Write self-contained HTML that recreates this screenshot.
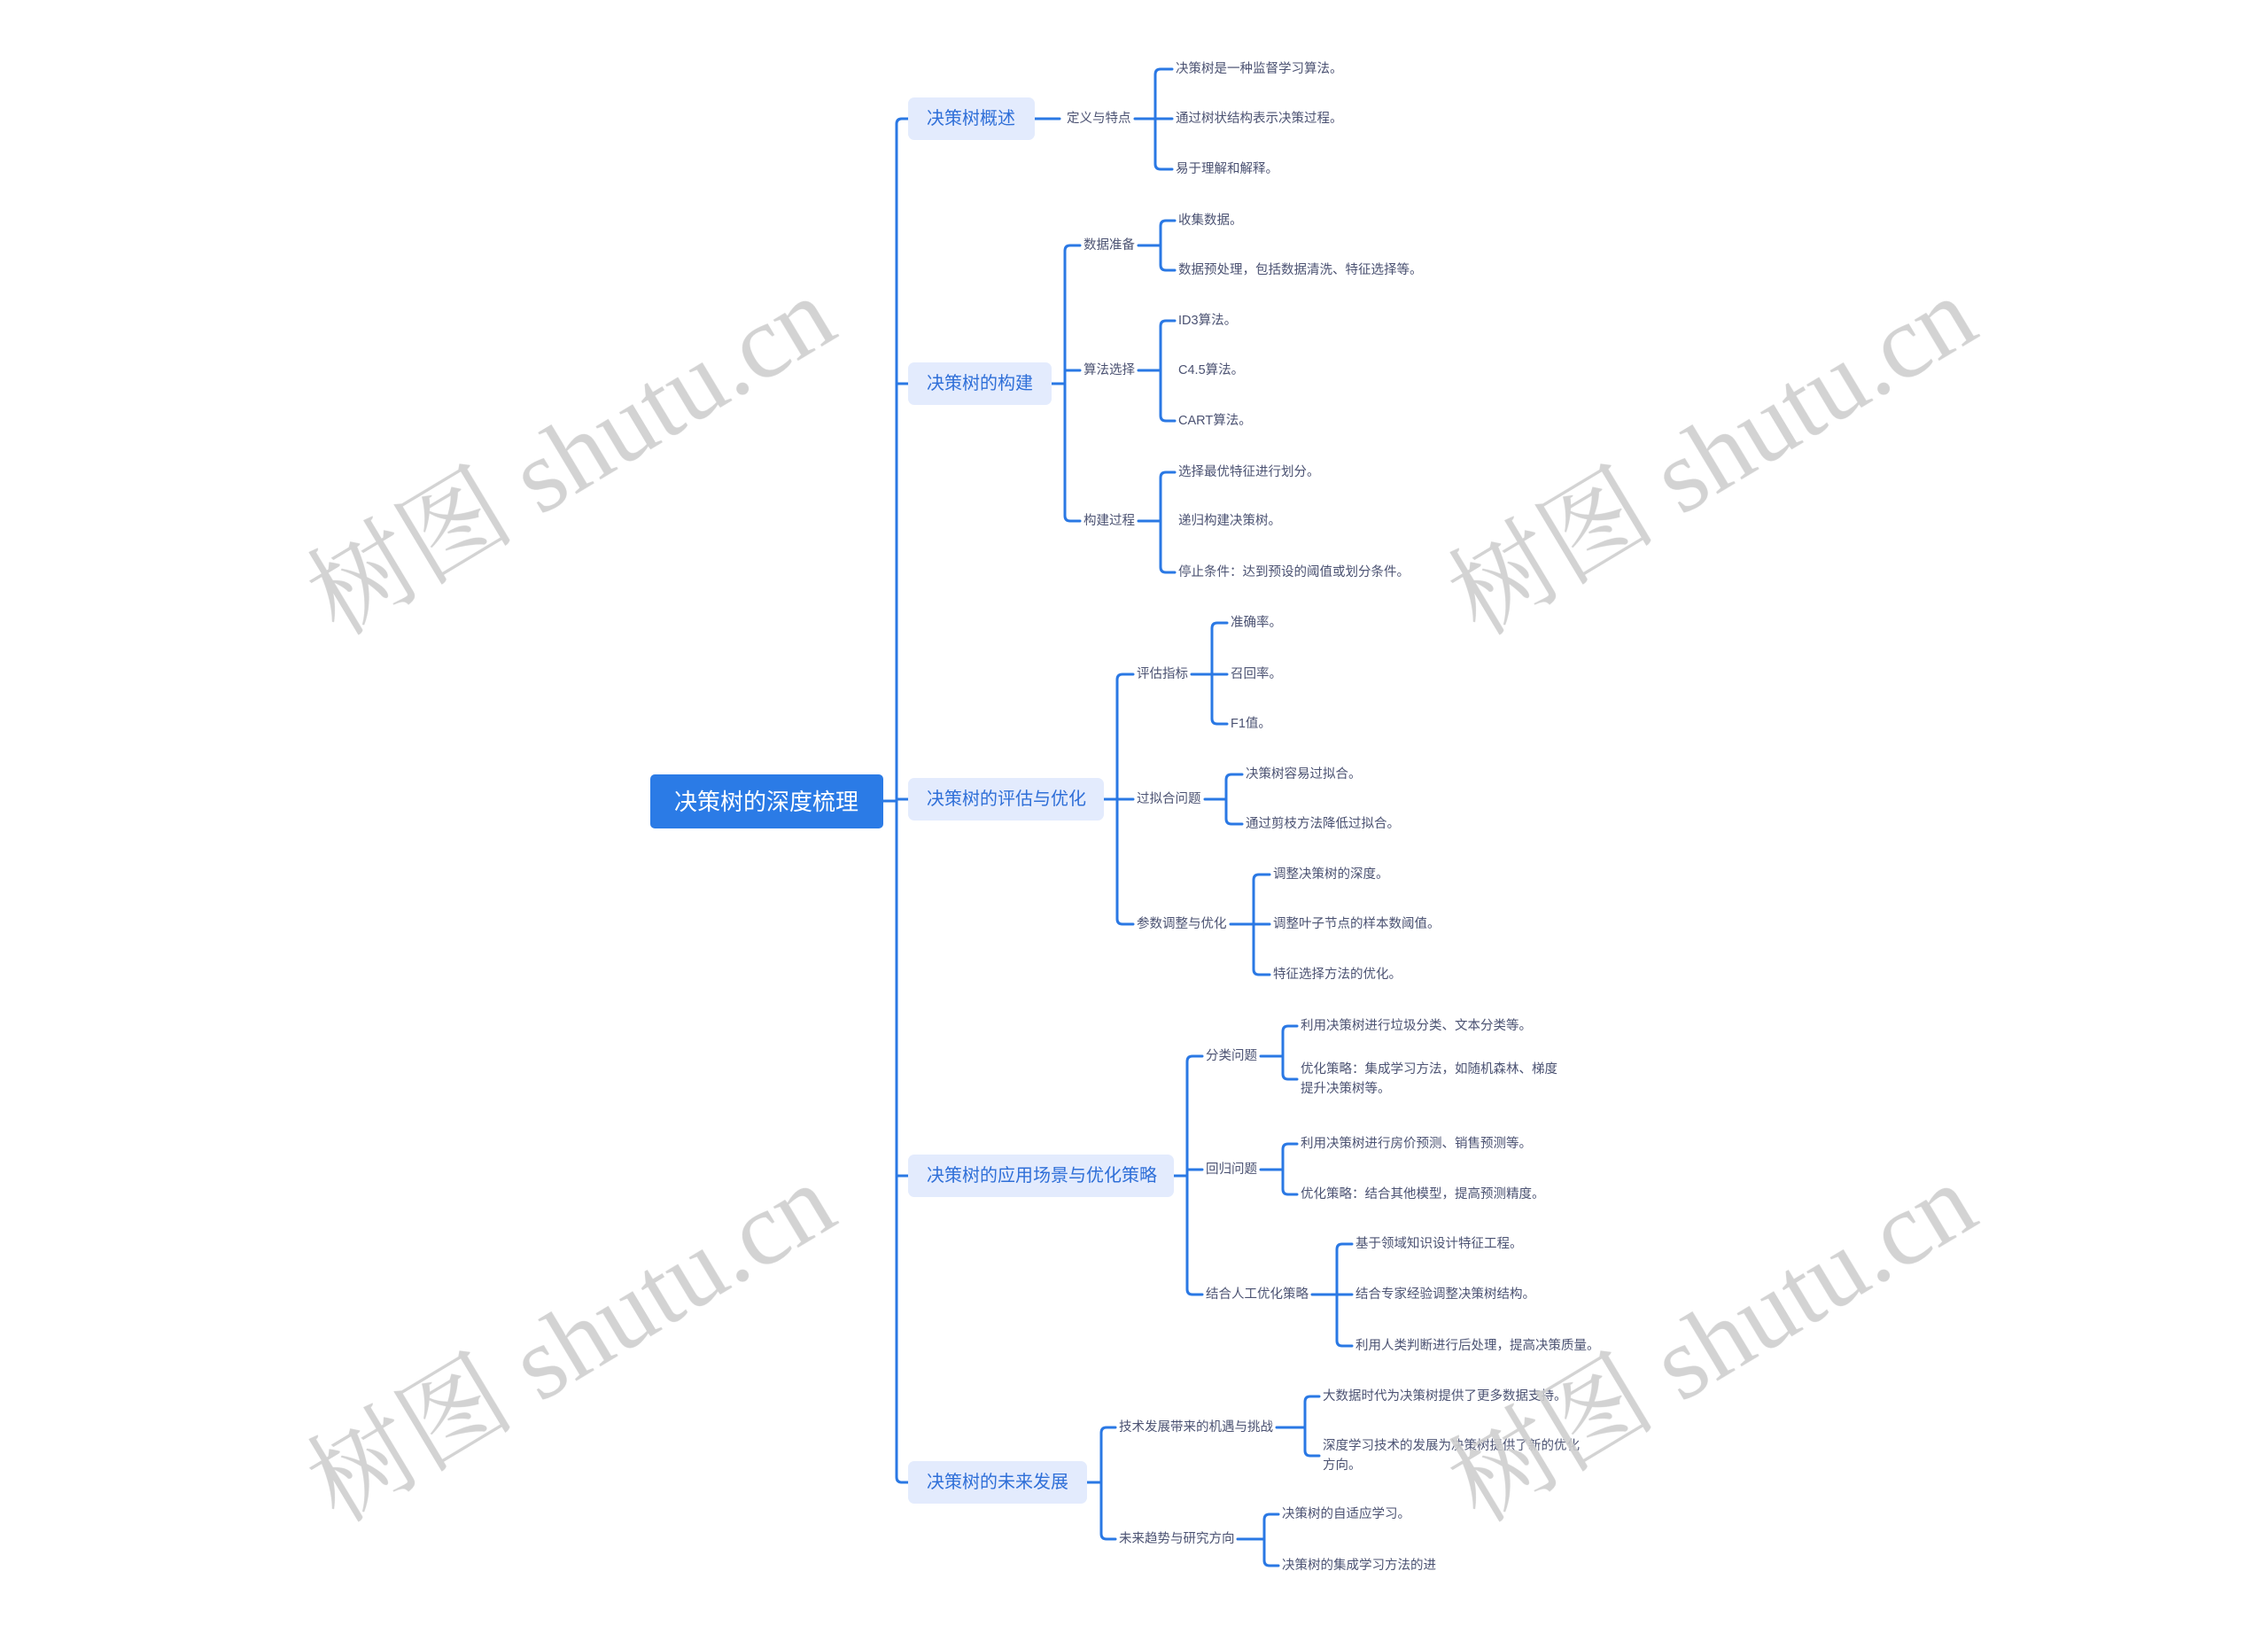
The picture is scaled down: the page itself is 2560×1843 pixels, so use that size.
<!DOCTYPE html>
<html><head><meta charset="utf-8"><style>
html,body{margin:0;padding:0;background:#fff;}
svg{display:block;}
.t{font-family:"Liberation Sans","Noto Sans CJK SC",sans-serif;}
.l{font-size:14.5px;fill:#4b5272;}
.n{font-size:20px;fill:#2f6fd8;}
.w{font-family:"Liberation Serif","Noto Serif CJK SC",serif;font-size:118px;fill:#cfcfcf;}
</style></head><body>
<svg width="2560" height="1843" viewBox="0 0 2560 1843" xmlns="http://www.w3.org/2000/svg">
<g transform="translate(-4,-4)">
<g fill="none" stroke="#2a78e4" stroke-width="3" stroke-linecap="round">
<path d="M1001,908 H1016"/>
<path d="M1029,138 H1022 Q1016,138 1016,144 V1671 Q1016,1677 1022,1677 H1029"/>
<path d="M1016,437 H1029 M1016,906 H1029 M1016,1331 H1029"/>
<path d="M1172,138 H1200"/>
<path d="M1285,138 H1308"/>
<path d="M1327,82 H1314 Q1308,82 1308,88 V189 Q1308,195 1314,195 H1327 M1308,138 H1327"/>
<path d="M1191,437 H1206"/>
<path d="M1223,281 H1212 Q1206,281 1206,287 V586 Q1206,592 1212,592 H1223 M1206,422 H1223"/>
<path d="M1289,281 H1314 M1330,253 H1320 Q1314,253 1314,259 V303 Q1314,309 1320,309 H1330"/>
<path d="M1289,422 H1314 M1330,366 H1320 Q1314,366 1314,372 V473 Q1314,479 1320,479 H1330"/>
<path d="M1289,592 H1314 M1330,537 H1320 Q1314,537 1314,543 V644 Q1314,650 1320,650 H1330"/>
<path d="M1250,906 H1265"/>
<path d="M1283,765 H1271 Q1265,765 1265,771 V1041 Q1265,1047 1271,1047 H1283 M1265,906 H1283"/>
<path d="M1349,765 H1389 M1389,707 H1378 Q1372,707 1372,713 V815 Q1372,821 1378,821 H1389"/>
<path d="M1364,906 H1388 M1406,878 H1394 Q1388,878 1388,884 V928 Q1388,934 1394,934 H1406"/>
<path d="M1393,1047 H1437 M1437,991 H1425 Q1419,991 1419,997 V1098 Q1419,1104 1425,1104 H1437"/>
<path d="M1329,1331 H1344"/>
<path d="M1361,1196 H1350 Q1344,1196 1344,1202 V1459 Q1344,1465 1350,1465 H1361 M1344,1324 H1361"/>
<path d="M1427,1196 H1452 M1468,1162 H1458 Q1452,1162 1452,1168 V1216 Q1452,1222 1458,1222 H1468"/>
<path d="M1427,1324 H1452 M1468,1295 H1458 Q1452,1295 1452,1301 V1346 Q1452,1352 1458,1352 H1468"/>
<path d="M1485,1465 H1530 M1530,1408 H1519 Q1513,1408 1513,1414 V1517 Q1513,1523 1519,1523 H1530"/>
<path d="M1231,1677 H1247"/>
<path d="M1263,1615 H1253 Q1247,1615 1247,1621 V1735 Q1247,1741 1253,1741 H1263"/>
<path d="M1445,1615 H1477 M1493,1580 H1483 Q1477,1580 1477,1586 V1641 Q1477,1647 1483,1647 H1493"/>
<path d="M1401,1741 H1431 M1447,1713 H1437 Q1431,1713 1431,1719 V1765 Q1431,1771 1437,1771 H1447"/>
</g>
<rect x="738" y="878" width="263" height="61" rx="5" fill="#2b7be6"/>
<text class="t" x="869" y="909" font-size="26" fill="#fff" text-anchor="middle" dominant-baseline="central">决策树的深度梳理</text>
<g fill="#e3ebfd">
<rect x="1029" y="114" width="143" height="48" rx="7"/>
<rect x="1029" y="413" width="162" height="48" rx="7"/>
<rect x="1029" y="882" width="221" height="48" rx="7"/>
<rect x="1029" y="1307" width="300" height="48" rx="7"/>
<rect x="1029" y="1653" width="202" height="48" rx="7"/>
</g>
<g class="t n" dominant-baseline="central">
<text x="1050" y="138">决策树概述</text>
<text x="1050" y="437">决策树的构建</text>
<text x="1050" y="906">决策树的评估与优化</text>
<text x="1050" y="1331">决策树的应用场景与优化策略</text>
<text x="1050" y="1677">决策树的未来发展</text>
</g>
<g class="t l" dominant-baseline="central">
<text x="1208" y="138">定义与特点</text>
<text x="1331" y="82">决策树是一种监督学习算法。</text>
<text x="1331" y="138">通过树状结构表示决策过程。</text>
<text x="1331" y="195">易于理解和解释。</text>
<text x="1227" y="281">数据准备</text>
<text x="1227" y="422">算法选择</text>
<text x="1227" y="592">构建过程</text>
<text x="1334" y="253">收集数据。</text>
<text x="1334" y="309">数据预处理，包括数据清洗、特征选择等。</text>
<text x="1334" y="366">ID3算法。</text>
<text x="1334" y="422">C4.5算法。</text>
<text x="1334" y="479">CART算法。</text>
<text x="1334" y="537">选择最优特征进行划分。</text>
<text x="1334" y="592">递归构建决策树。</text>
<text x="1334" y="650">停止条件：达到预设的阈值或划分条件。</text>
<text x="1287" y="765">评估指标</text>
<text x="1287" y="906">过拟合问题</text>
<text x="1287" y="1047">参数调整与优化</text>
<text x="1393" y="707">准确率。</text>
<text x="1393" y="765">召回率。</text>
<text x="1393" y="821">F1值。</text>
<text x="1410" y="878">决策树容易过拟合。</text>
<text x="1410" y="934">通过剪枝方法降低过拟合。</text>
<text x="1441" y="991">调整决策树的深度。</text>
<text x="1441" y="1047">调整叶子节点的样本数阈值。</text>
<text x="1441" y="1104">特征选择方法的优化。</text>
<text x="1365" y="1196">分类问题</text>
<text x="1365" y="1324">回归问题</text>
<text x="1365" y="1465">结合人工优化策略</text>
<text x="1472" y="1162">利用决策树进行垃圾分类、文本分类等。</text>
<text x="1472" y="1211">优化策略：集成学习方法，如随机森林、梯度</text>
<text x="1472" y="1233">提升决策树等。</text>
<text x="1472" y="1295">利用决策树进行房价预测、销售预测等。</text>
<text x="1472" y="1352">优化策略：结合其他模型，提高预测精度。</text>
<text x="1534" y="1408">基于领域知识设计特征工程。</text>
<text x="1534" y="1465">结合专家经验调整决策树结构。</text>
<text x="1534" y="1523">利用人类判断进行后处理，提高决策质量。</text>
<text x="1267" y="1615">技术发展带来的机遇与挑战</text>
<text x="1267" y="1741">未来趋势与研究方向</text>
<text x="1497" y="1580">大数据时代为决策树提供了更多数据支持。</text>
<text x="1497" y="1636">深度学习技术的发展为决策树提供了新的优化</text>
<text x="1497" y="1658">方向。</text>
<text x="1451" y="1713">决策树的自适应学习。</text>
<text x="1451" y="1771">决策树的集成学习方法的进</text>
</g>
</g>
<g class="w" text-anchor="middle" dominant-baseline="central" opacity="0.9">
<text transform="translate(645,515) rotate(-31)">树图 shutu.cn</text>
<text transform="translate(1933,515) rotate(-31)">树图 shutu.cn</text>
<text transform="translate(645,1516) rotate(-31)">树图 shutu.cn</text>
<text transform="translate(1933,1516) rotate(-31)">树图 shutu.cn</text>
</g>
</svg>
</body></html>
